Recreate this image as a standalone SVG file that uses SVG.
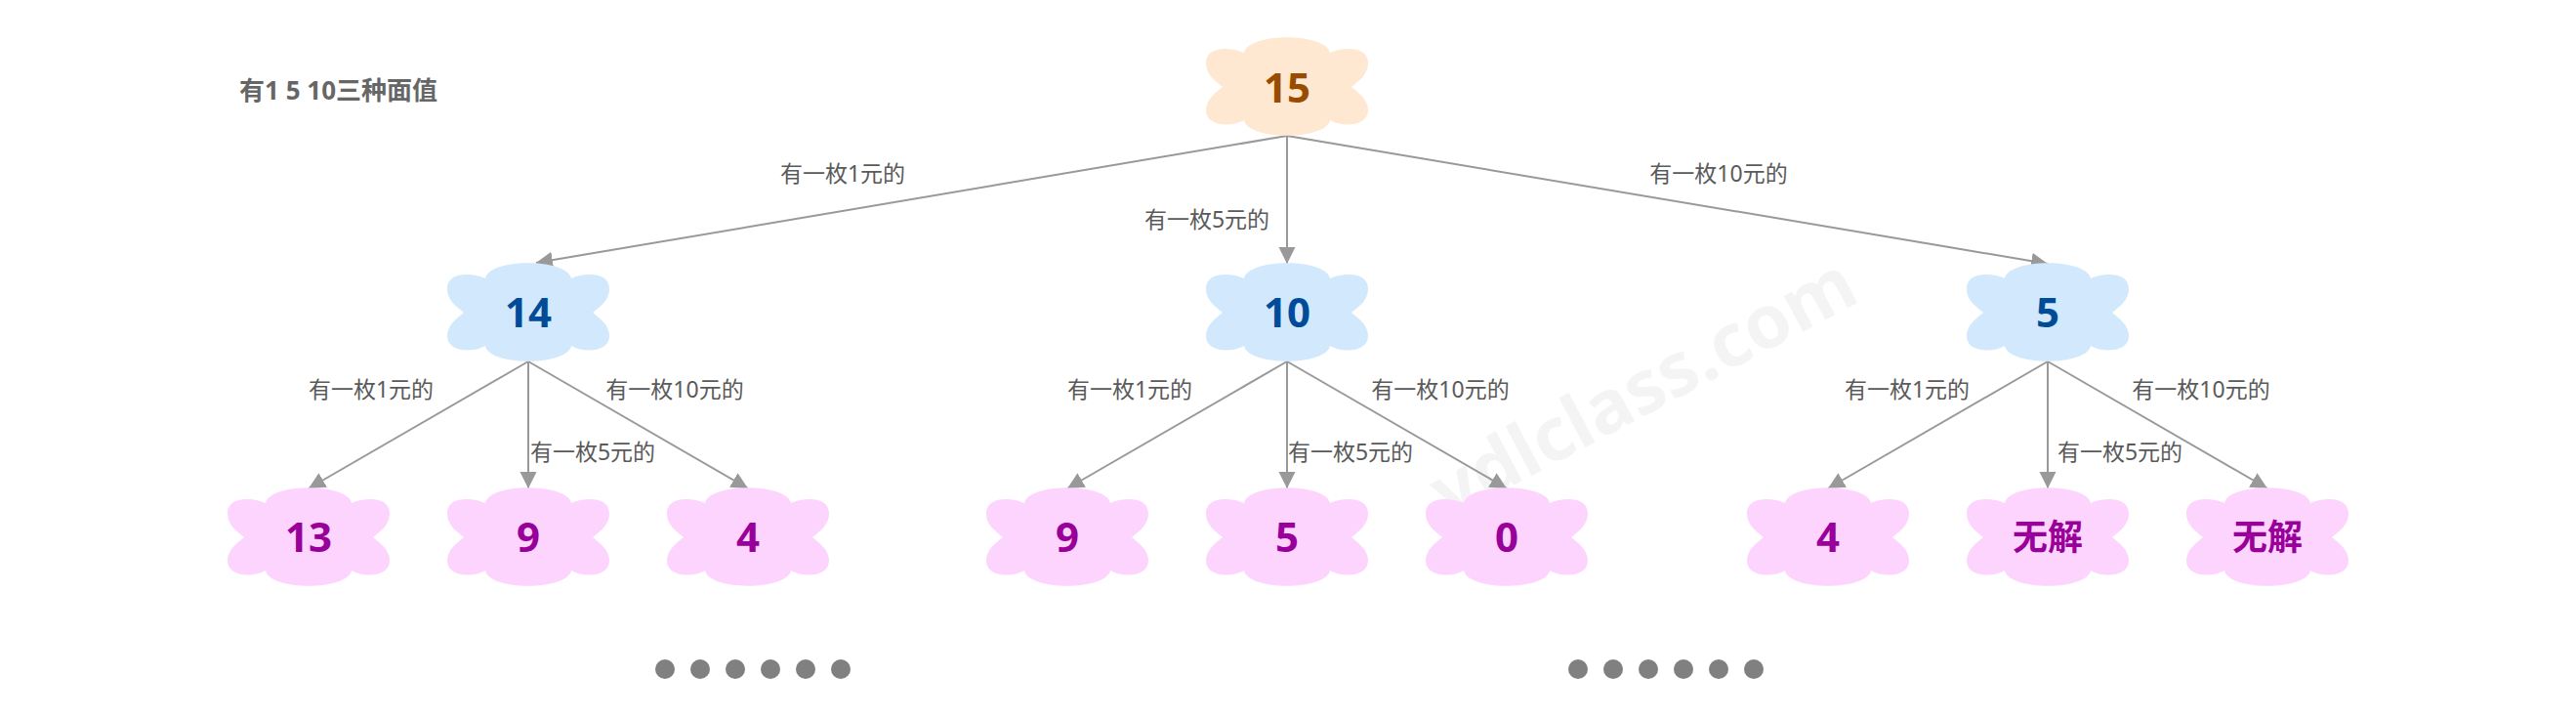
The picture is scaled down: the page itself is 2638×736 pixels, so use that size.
<svg xmlns="http://www.w3.org/2000/svg" xmlns:xlink="http://www.w3.org/1999/xlink" width="2638" height="736" viewBox="0 0 2638 736">
<style>
  .lbl { font-family: "Noto Sans", "Noto Sans CJK SC", sans-serif; font-size: 23px; fill: #5a5a5a; text-anchor: middle; }
  .title { font-family: "Noto Sans", "Noto Sans CJK SC", sans-serif; font-size: 26px; font-weight: bold; fill: #666666; }
  .num { font-family: "Noto Sans", "Noto Sans CJK SC", sans-serif; font-size: 42px; font-weight: bold; text-anchor: middle; }
  .cjk { font-family: "Noto Sans CJK SC", sans-serif; font-size: 36px; font-weight: bold; text-anchor: middle; }
  .root { fill: #ffe8d1; }
  .lv1 { fill: #d2e8fc; }
  .lv2 { fill: #fdd4fe; }
  .t-root { fill: #994c00; }
  .t-lv1 { fill: #004c99; }
  .t-lv2 { fill: #990099; }
  .edge { stroke: #999999; stroke-width: 2; fill: none; marker-end: url(#arrow); }
  .dot { fill: #808080; }
  .wm { font-family: "Noto Sans", sans-serif; font-size: 76px; font-weight: bold; fill: #000000; fill-opacity: 0.045; text-anchor: middle; }
</style>
<defs>
  <marker id="arrow" markerUnits="userSpaceOnUse" markerWidth="18" markerHeight="18" refX="17" refY="8.5" orient="auto">
    <path d="M0,0 L17,8.5 L0,17 Z" fill="#999999"/>
  </marker>
  <path id="cloud" d="M-44,-35 C-40,-56 40,-56 44,-35 C58,-41 83,-42 83,-24 C83,-12 72,-5 66,0 C72,5 83,12 83,24 C83,40 58,42 44,34 C40,55 -40,55 -44,34 C-58,42 -83,40 -83,24 C-83,12 -72,5 -66,0 C-72,-5 -83,-12 -83,-24 C-83,-42 -58,-41 -44,-35 Z"/>
</defs>
<rect x="0" y="0" width="2638" height="736" fill="#ffffff"/>

<g id="watermark" transform="translate(1695,420) rotate(-28)">
  <text class="wm" x="0" y="0">ydlclass.com</text>
</g>

<text id="title" class="title" x="245" y="102">有1 5 10三种面值</text>

<g id="connectors">
  <line class="edge" x1="1318" y1="139" x2="549" y2="269"/>
  <line class="edge" x1="1318" y1="139" x2="1318" y2="270"/>
  <line class="edge" x1="1318" y1="139" x2="2097" y2="270"/>
  <line class="edge" x1="541" y1="370" x2="316" y2="500"/>
  <line class="edge" x1="541" y1="370" x2="541" y2="500"/>
  <line class="edge" x1="541" y1="370" x2="766" y2="500"/>
  <line class="edge" x1="1318" y1="370" x2="1093" y2="500"/>
  <line class="edge" x1="1318" y1="370" x2="1318" y2="500"/>
  <line class="edge" x1="1318" y1="370" x2="1543" y2="500"/>
  <line class="edge" x1="2097" y1="370" x2="1872" y2="500"/>
  <line class="edge" x1="2097" y1="370" x2="2097" y2="500"/>
  <line class="edge" x1="2097" y1="370" x2="2322" y2="500"/>
  <text class="lbl" x="863" y="186">有一枚1元的</text>
  <text class="lbl" x="1236" y="233">有一枚5元的</text>
  <text class="lbl" x="1760" y="186">有一枚10元的</text>
  <text class="lbl" x="380" y="407">有一枚1元的</text>
  <text class="lbl" x="607" y="471">有一枚5元的</text>
  <text class="lbl" x="691" y="407">有一枚10元的</text>
  <text class="lbl" x="1157" y="407">有一枚1元的</text>
  <text class="lbl" x="1383" y="471">有一枚5元的</text>
  <text class="lbl" x="1475" y="407">有一枚10元的</text>
  <text class="lbl" x="1953" y="407">有一枚1元的</text>
  <text class="lbl" x="2171" y="471">有一枚5元的</text>
  <text class="lbl" x="2254" y="407">有一枚10元的</text>
</g>

<g id="node-15"><use xlink:href="#cloud" class="root" transform="translate(1318,89)"/><text class="num t-root" x="1318" y="105">15</text></g>

<g id="node-14"><use xlink:href="#cloud" class="lv1" transform="translate(541,320)"/><text class="num t-lv1" x="541" y="335">14</text></g>
<g id="node-10"><use xlink:href="#cloud" class="lv1" transform="translate(1318,320)"/><text class="num t-lv1" x="1318" y="335">10</text></g>
<g id="node-5"><use xlink:href="#cloud" class="lv1" transform="translate(2097,320)"/><text class="num t-lv1" x="2097" y="335">5</text></g>

<g id="node-13"><use xlink:href="#cloud" class="lv2" transform="translate(316,550)"/><text class="num t-lv2" x="316" y="565">13</text></g>
<g id="node-9a"><use xlink:href="#cloud" class="lv2" transform="translate(541,550)"/><text class="num t-lv2" x="541" y="565">9</text></g>
<g id="node-4a"><use xlink:href="#cloud" class="lv2" transform="translate(766,550)"/><text class="num t-lv2" x="766" y="565">4</text></g>
<g id="node-9b"><use xlink:href="#cloud" class="lv2" transform="translate(1093,550)"/><text class="num t-lv2" x="1093" y="565">9</text></g>
<g id="node-5b"><use xlink:href="#cloud" class="lv2" transform="translate(1318,550)"/><text class="num t-lv2" x="1318" y="565">5</text></g>
<g id="node-0"><use xlink:href="#cloud" class="lv2" transform="translate(1543,550)"/><text class="num t-lv2" x="1543" y="565">0</text></g>
<g id="node-4b"><use xlink:href="#cloud" class="lv2" transform="translate(1872,550)"/><text class="num t-lv2" x="1872" y="565">4</text></g>
<g id="node-none1"><use xlink:href="#cloud" class="lv2" transform="translate(2097,550)"/><text class="cjk t-lv2" x="2097" y="563">无解</text></g>
<g id="node-none2"><use xlink:href="#cloud" class="lv2" transform="translate(2322,550)"/><text class="cjk t-lv2" x="2322" y="563">无解</text></g>

<g id="dots-left">
  <circle class="dot" cx="681" cy="685" r="10"/>
  <circle class="dot" cx="717" cy="685" r="10"/>
  <circle class="dot" cx="753" cy="685" r="10"/>
  <circle class="dot" cx="789" cy="685" r="10"/>
  <circle class="dot" cx="825" cy="685" r="10"/>
  <circle class="dot" cx="861" cy="685" r="10"/>
</g>
<g id="dots-right">
  <circle class="dot" cx="1616" cy="685" r="10"/>
  <circle class="dot" cx="1652" cy="685" r="10"/>
  <circle class="dot" cx="1688" cy="685" r="10"/>
  <circle class="dot" cx="1724" cy="685" r="10"/>
  <circle class="dot" cx="1760" cy="685" r="10"/>
  <circle class="dot" cx="1796" cy="685" r="10"/>
</g>
</svg>
